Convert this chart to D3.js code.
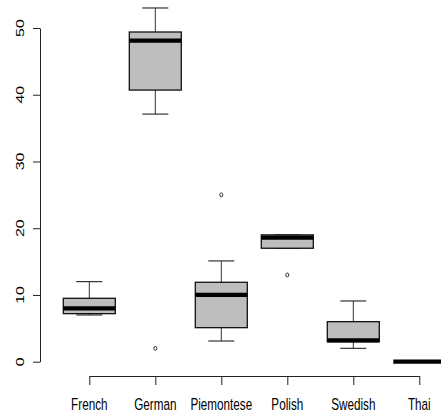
<!DOCTYPE html>
<html>
<head>
<meta charset="utf-8">
<script src="https://cdn.jsdelivr.net/npm/d3@7"></script>
<style>
  html, body { margin: 0; padding: 0; background: #fff; }
  svg { display: block; }
  text { font-family: "Liberation Sans", Arial, sans-serif; fill: #000; }
</style>
</head>
<body>
<svg id="chart" width="441" height="413"></svg>
<script>
// Five-number summaries per cuisine
const categories   = ["French", "German", "Piemontese", "Polish", "Swedish", "Thai"];
const lowerWhisker = [7.0, 37.1, 3.1, 17.0, 2.0, 0];
const lowerHinge   = [7.2, 40.7, 5.1, 17.0, 3.0, 0];
const medians      = [8.0, 48.1, 10.0, 18.6, 3.2, 0];
const upperHinge   = [9.5, 49.4, 11.9, 19.0, 6.0, 0];
const upperWhisker = [12.0, 53.0, 15.1, 19.0, 9.1, 0];
// Points beyond the whiskers: [category index, value]
const outliers     = [[1, 2.0], [2, 25.0], [3, 13.0]];
const yTicks       = [0, 10, 20, 30, 40, 50];

const svg = d3.select("#chart");
const xsq = 0.71; // horizontal squeeze applied to the glyphs

const y = d3.scaleLinear().domain([0, 50]).range([361.7, 28]);
const x = d3.scalePoint().domain(categories).range([89.3, 419.3]);
const halfBox = 26;
const halfCap = 13;

const boxes = categories.map((c, i) => ({
  c, lw: lowerWhisker[i], q1: lowerHinge[i], med: medians[i], q3: upperHinge[i], uw: upperWhisker[i]
}));

const g = svg.append("g");

// whiskers (vertical stems)
g.selectAll("line.stem-up").data(boxes).join("line")
  .attr("x1", d => x(d.c)).attr("x2", d => x(d.c))
  .attr("y1", d => y(d.q3)).attr("y2", d => y(d.uw))
  .attr("stroke", "#333").attr("stroke-width", 1);
g.selectAll("line.stem-dn").data(boxes).join("line")
  .attr("x1", d => x(d.c)).attr("x2", d => x(d.c))
  .attr("y1", d => y(d.q1)).attr("y2", d => y(d.lw))
  .attr("stroke", "#333").attr("stroke-width", 1);
// whisker caps
["uw", "lw"].forEach(k => {
  g.append("g").selectAll("line").data(boxes).join("line")
    .attr("x1", d => x(d.c) - halfCap).attr("x2", d => x(d.c) + halfCap)
    .attr("y1", d => y(d[k])).attr("y2", d => y(d[k]))
    .attr("stroke", "#333").attr("stroke-width", 1.2);
});

// boxes
g.append("g").selectAll("rect").data(boxes).join("rect")
  .attr("x", d => x(d.c) - halfBox).attr("width", 2 * halfBox)
  .attr("y", d => y(d.q3)).attr("height", d => y(d.q1) - y(d.q3))
  .attr("fill", "#bebebe").attr("stroke", "#111").attr("stroke-width", 1.3);

// medians
g.append("g").selectAll("line").data(boxes).join("line")
  .attr("x1", d => x(d.c) - halfBox).attr("x2", d => x(d.c) + halfBox)
  .attr("y1", d => y(d.med)).attr("y2", d => y(d.med))
  .attr("stroke", "#000").attr("stroke-width", 4.2);

// outliers
g.append("g").selectAll("ellipse").data(outliers).join("ellipse")
  .attr("cx", d => x(categories[d[0]])).attr("cy", d => y(d[1]))
  .attr("rx", 1.5).attr("ry", 2)
  .attr("fill", "none").attr("stroke", "#333").attr("stroke-width", 1);

// y axis
const yAxis = svg.append("g").attr("transform", "translate(40,0)")
  .call(d3.axisLeft(y).tickValues(yTicks).tickSize(7).tickSizeOuter(0).tickFormat(""));
yAxis.selectAll("path, line").attr("stroke", "#222").attr("stroke-width", 1);
yAxis.selectAll("text").remove();
svg.append("g").selectAll("text").data(yTicks).join("text")
  .attr("transform", d => `translate(24,${y(d)}) scale(${xsq},1) rotate(-90)`)
  .attr("text-anchor", "middle")
  .style("font-size", "16px")
  .text(d => d);

// x axis
const xAxis = svg.append("g").attr("transform", "translate(0,376)")
  .call(d3.axisBottom(x).tickSize(9).tickSizeOuter(0).tickFormat(""));
xAxis.selectAll("path, line").attr("stroke", "#222").attr("stroke-width", 1);
xAxis.selectAll("text").remove();
svg.append("g").selectAll("text").data(categories).join("text")
  .attr("transform", d => `translate(${x(d)},410) scale(${xsq},1)`)
  .attr("text-anchor", "middle")
  .style("font-size", "16.5px")
  .text(d => d);
</script>
</body>
</html>
